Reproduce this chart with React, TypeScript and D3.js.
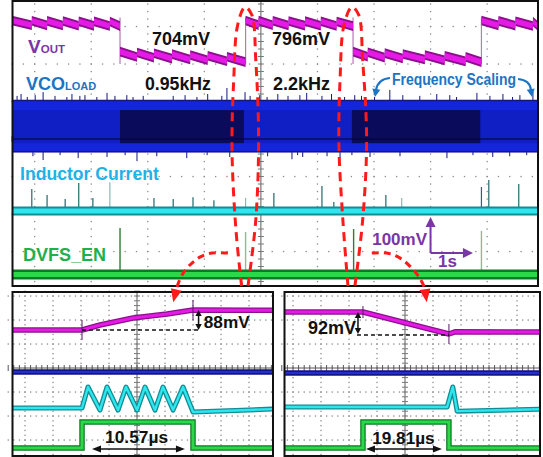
import * as d3 from "d3";
import React from "react";

const FONT = "'Liberation Sans', Arial, Helvetica, sans-serif";

// ---------- top capture: time in s (1 s/div, 0 = centre graticule), vertical in divisions ----------
const topT = [-4.4, 4.9];

const voutEdgeT = [-4.4, -2.49, -0.27, 1.63, 3.9, 4.9];
const voutStartMv = [798, 715, 798, 715, 798];
const voutEndMv = [795, 699, 795, 699, 795];
const voutTeethT = [
  [-4.05, -3.78, -3.5, -3.22, -2.95, -2.67],
  [-2.19, -1.89, -1.57, -1.25, -0.94, -0.6],
  [-0.04, 0.21, 0.49, 0.78, 1.06, 1.34],
  [1.89, 2.19, 2.51, 2.9, 3.25, 3.62],
  [4.2, 4.5, 4.81],
];
const voutRippleMv = 12;

const vcoBandDiv = [-0.35, 1.04];
const vcoDarkDiv = [-0.11, 0.77];
const vcoDarkT = [
  [-2.49, -0.3],
  [1.61, 3.88],
];
const vcoUpT = [
  -4.31, -4.24, -4.13, -3.99, -3.85, -3.64, -3.43, -3.34, -3.2, -3.11, -2.9, -2.72, -2.58, -2.37, -2.26, -2.08,
  -1.55, -1.34, -1.13, -0.94, -0.69, -0.6, -0.28, -0.19, -0.02, 0.11, 0.3, 0.48, 0.69, 0.81, 1.08, 1.25, 1.48,
  1.66, 1.78, 2.01, 2.28, 2.51, 2.81, 3.11, 3.34, 3.46, 3.82, 4.05, 4.28, 4.45, 4.58, 4.81,
];
const vcoUpDiv = [
  0.11, 0.16, 0.08, 0.13, 0.21, 0.11, 0.08, 0.16, 0.11, 0.13, 0.08, 0.19, 0.11, 0.13, 0.08, 0.11, 0.11, 0.13,
  0.08, 0.16, 0.11, 0.32, 0.21, 0.11, 0.13, 0.08, 0.16, 0.11, 0.13, 0.19, 0.11, 0.16, 0.08, 0.13, 0.11, 0.08,
  0.27, 0.13, 0.11, 0.16, 0.13, 0.08, 0.19, 0.11, 0.16, 0.08, 0.13, 0.21,
];
const vcoDownT = [
  -4.03, -3.85, -3.55, -3.23, -2.72, -2.4, -2.19, -1.84, -1.31, -0.95, -0.55, 0.12, 0.55, 0.65, 0.74, 1.17, 1.4,
  1.61, 1.93, 2.46, 3.29, 3.75, 4.1, 4.4, 4.7,
];
const vcoDownDiv = [
  0.11, 0.21, 0.08, 0.16, 0.13, 0.08, 0.24, 0.11, 0.16, 0.08, 0.13, 0.11, 0.19, 0.08, 0.13, 0.11, 0.16, 0.08,
  0.13, 0.11, 0.16, 0.08, 0.13, 0.11, 0.08,
];

const ilBandDiv = -1.92;
const ilSpikeT = [
  -4.05, -3.78, -3.46, -3.22, -2.97, -2.67, -1.89, -1.55, -1.2, -0.83, -0.27, 0.23, 1.08, 1.29, 2.21, 2.49, 3.9,
  4.03, 4.56,
];
const ilSpikeTop = [
  -1.33, -1.49, -1.6, -1.17, -1.57, -1.15, -1.57, -1.6, -1.55, -1.63, -1.57, -1.44, -1.25, -1.68, -1.49, -1.57,
  -1.28, -1.09, -1.2,
];
const ilSpikeFaint = [-2.67, -0.27, 2.49];

const enBandDiv = -3.61;
const enSpikeT = [-2.49, -0.27, 1.64, 3.9];
const enSpikeTop = [-2.37, -2.48, -2.4, -2.45];
const enSpikeFaint = [-0.27, 3.9];

// zoom call-outs (time, graticule div of the top capture)
const loopA: [number, number][] = [
  [-0.34, -3.92], [-0.44, -2.43], [-0.51, -0.29], [-0.48, 1.57], [-0.41, 3.04], [-0.28, 3.52],
  [-0.16, 3.31], [-0.09, 2.11], [-0.04, -0.03], [-0.09, -2.16], [-0.23, -3.95],
];
const loopB: [number, number][] = [
  [1.54, -3.92], [1.45, -2.16], [1.38, -0.16], [1.4, 1.57], [1.47, 3.04], [1.61, 3.52],
  [1.73, 3.31], [1.8, 2.11], [1.87, -0.03], [1.8, -2.16], [1.66, -3.95],
];
const calloutA: [number, number][] = [
  [-0.583, -3.04], [-0.866, -3.04], [-1.078, -3.15], [-1.254, -3.36], [-1.396, -3.63], [-1.484, -3.95], [-1.55, -4.35],
];
const calloutB: [number, number][] = [
  [1.961, -3.04], [2.226, -3.04], [2.456, -3.17], [2.668, -3.44], [2.809, -3.71], [2.898, -3.97], [2.933, -4.35],
];
const scaleBarT = [3.0, 3.75];
const scaleBarDiv = [-3.04, -2.08];

// ---------- zoomed captures: time in µs ----------
const zoomAT = [-6.67, 18.19];
const zoomBT = [-18.2, 40.8];
const pulseUs = [10.57, 19.81];
const stepMv = [88, 92];

const aVoutT = [-6.67, 0, 1.71, 4.86, 8.1, 10.57, 18.19];
const aVoutMv = [704, 704, 726, 757, 774, 792, 791];
const bVoutT = [-18.2, 0, 19.81, 21.2, 40.8];
const bVoutMv = [796, 796, 704, 713, 712];

const zoomVcoDiv = [-0.17, -0.21];

const aIlT = [-6.67, 0, 0.57, 1.71, 2.38, 3.43, 4.19, 5.24, 6.0, 6.95, 7.71, 8.67, 9.62, 10.57, 18.19];
const aIlMa = [0, 0, 200, -20, 200, -20, 200, -20, 200, -20, 200, -20, 200, -38, -10];
const bIlT = [-18.2, 19.4, 20.7, 21.7, 40.8];
const bIlMa = [10, 10, 200, -30, -12];

const aEnT = [-6.67, 0, 0, 10.57, 10.57, 18.19];
const bEnT = [-18.2, 0, 0, 19.81, 19.81, 40.8];
const enV = [0, 0, 1, 1, 0, 0];

const C = {
  magentaDark: "#8c0f8c",
  magenta: "#e61ae6",
  blue: "#1426dc",
  blueDark: "#0b0b5c",
  navy: "#15157a",
  cyan: "#2ee6ee",
  teal: "#138c94",
  tealSpike: "#1f6a6a",
  green: "#2ad84a",
  greenDark: "#0d7a22",
  red: "#ff1a1a",
  purple: "#7a35a6",
  vco: "#1b74c4",
  il: "#1eb2ea",
  en: "#1fb04e",
};

function arrowHead(tip: [number, number], from: [number, number], len: number, half: number) {
  const dx = tip[0] - from[0];
  const dy = tip[1] - from[1];
  const L = Math.hypot(dx, dy) || 1;
  const ux = dx / L;
  const uy = dy / L;
  const bx = tip[0] - ux * len;
  const by = tip[1] - uy * len;
  return `${tip[0]},${tip[1]} ${bx - uy * half},${by + ux * half} ${bx + uy * half},${by - ux * half}`;
}

function Graticule({ x0, x1, y0, y1, cx, cy, dx, dy }: any) {
  const cols: number[] = [];
  for (let k = -10; k <= 10; k++) {
    const x = cx + k * dx;
    if (k !== 0 && x > x0 + 2 && x < x1 - 2) cols.push(x);
  }
  const rows: number[] = [];
  for (let k = -10; k <= 10; k++) {
    const y = cy + k * dy;
    if (k !== 0 && y > y0 + 2 && y < y1 - 2) rows.push(y);
  }
  const sx = dx / 5;
  const sy = dy / 5;
  const startY = cy - Math.ceil((cy - y0) / sy) * sy;
  const startX = cx - Math.ceil((cx - x0) / sx) * sx;
  const tickX = d3.range(startX, x1, sx);
  const tickY = d3.range(startY, y1, sy);
  return (
    <g>
      {cols.map((x) =>
        tickY.map((y, i) => <rect key={`${x}-${i}`} x={x - 0.6} y={y - 0.6} width={1.3} height={1.3} fill="#8a8a8a" />)
      )}
      {rows.map((y) =>
        tickX.map((x, i) => <rect key={`${y}-${i}`} x={x - 0.6} y={y - 0.6} width={1.3} height={1.3} fill="#8a8a8a" />)
      )}
      <line x1={cx} x2={cx} y1={y0} y2={y1} stroke="#777" strokeWidth={1.2} />
      <line x1={x0} x2={x1} y1={cy} y2={cy} stroke="#555" strokeWidth={1} />
      {tickY.map((y, i) => (
        <line key={`ty${i}`} x1={cx - 3} x2={cx + 3} y1={y} y2={y} stroke="#777" strokeWidth={1} />
      ))}
      {tickX.map((x, i) => (
        <line key={`tx${i}`} x1={x} x2={x} y1={cy - 3} y2={cy + 3} stroke="#555" strokeWidth={1} />
      ))}
    </g>
  );
}

export default function App() {
  // top capture scales
  const tx = d3.scaleLinear().domain(topT).range([12, 538]);
  const dv = d3.scaleLinear().domain([0, 1]).range([139, 101.5]);
  const vy = d3.scaleLinear().domain([796, 704]).range([23.5, 58]);

  // zoom capture scales
  const ax = d3.scaleLinear().domain(zoomAT).range([12, 273]);
  const bx = d3.scaleLinear().domain(zoomBT).range([284, 540]);
  const aVy = d3.scaleLinear().domain([704, 792]).range([330, 310]);
  const bVy = d3.scaleLinear().domain([796, 704]).range([312, 334]);
  const zDiv = d3.scaleLinear().domain([0, 1]).range([368, 344]);
  const zIy = d3.scaleLinear().domain([0, 200]).range([408, 387]);
  const zEy = d3.scaleLinear().domain([0, 1]).range([448, 422]);

  // VOUT sawtooth teeth
  const teeth: { a: number; b: number; va: number; vb: number }[] = [];
  voutEdgeT.slice(0, -1).forEach((a, i) => {
    const b = voutEdgeT[i + 1];
    const trend = d3.scaleLinear().domain([a, b]).range([voutStartMv[i], voutEndMv[i]]);
    const cuts = [a, ...voutTeethT[i], b];
    for (let k = 0; k < cuts.length - 1; k++) {
      teeth.push({
        a: cuts[k],
        b: cuts[k + 1],
        va: trend(cuts[k]) + voutRippleMv / 2,
        vb: trend(cuts[k + 1]) - voutRippleMv / 2,
      });
    }
  });
  const toothPath = (t: any, half: number) =>
    `M${tx(t.a)},${vy(t.va) - half}L${tx(t.b)},${vy(t.vb) - half}L${tx(t.b)},${vy(t.vb) + half}L${tx(t.a)},${vy(t.va) + half}Z`;

  const smooth = d3
    .line<[number, number]>()
    .x((d) => tx(d[0]))
    .y((d) => dv(d[1]))
    .curve(d3.curveCatmullRom.alpha(0.5));

  const lineA = (ts: number[], vs: number[], sy: any) =>
    d3.line<number>().x((_, i) => ax(ts[i])).y((_, i) => sy(vs[i]))(ts) || "";
  const lineB = (ts: number[], vs: number[], sy: any) =>
    d3.line<number>().x((_, i) => bx(ts[i])).y((_, i) => sy(vs[i]))(ts) || "";

  const callout = (pts: [number, number][]) => {
    const body = pts.slice(0, -1);
    const tip: [number, number] = [tx(pts[pts.length - 1][0]), dv(pts[pts.length - 1][1])];
    const from: [number, number] = [tx(body[body.length - 1][0]), dv(body[body.length - 1][1])];
    return (
      <g>
        <path d={smooth(body) || ""} fill="none" stroke={C.red} strokeWidth={3} strokeDasharray="7 5" />
        <polygon points={arrowHead(tip, from, 13, 5.5)} fill={C.red} />
      </g>
    );
  };

  const txt = { fontFamily: FONT, fontWeight: 700 } as const;

  const zoomPanel = (
    key: string,
    x0: number,
    x1: number,
    cx: number,
    voutPath: string,
    vcoDiv: number,
    ilPath: string,
    enPath: string,
    clip: string
  ) => (
    <g key={key}>
      <Graticule x0={x0} x1={x1} y0={292} y1={456} cx={cx} cy={368} dx={28} dy={24} />
      <g clipPath={`url(#${clip})`}>
        <path d={voutPath} fill="none" stroke={C.magentaDark} strokeWidth={5.5} strokeLinejoin="round" />
        <path d={voutPath} fill="none" stroke={C.magenta} strokeWidth={3} strokeLinejoin="round" />
        <line x1={x0} x2={x1} y1={zDiv(vcoDiv)} y2={zDiv(vcoDiv)} stroke="#14148a" strokeWidth={5.5} />
        <line x1={x0} x2={x1} y1={zDiv(vcoDiv)} y2={zDiv(vcoDiv)} stroke="#2230c8" strokeWidth={2} />
        <path d={ilPath} fill="none" stroke={C.teal} strokeWidth={5} strokeLinejoin="round" />
        <path d={ilPath} fill="none" stroke={C.cyan} strokeWidth={2.4} strokeLinejoin="round" />
        <path d={enPath} fill="none" stroke={C.greenDark} strokeWidth={5.5} />
        <path d={enPath} fill="none" stroke={C.green} strokeWidth={3} />
      </g>
    </g>
  );

  const arrowH = (xA: number, xB: number, y: number) => (
    <g>
      <line x1={xA + 6} x2={xB - 6} y1={y} y2={y} stroke="#111" strokeWidth={1.5} />
      <polygon points={arrowHead([xA, y], [xA + 10, y], 9, 3.5)} fill="#111" />
      <polygon points={arrowHead([xB, y], [xB - 10, y], 9, 3.5)} fill="#111" />
    </g>
  );
  const arrowV = (x: number, yA: number, yB: number) => (
    <g>
      <line x1={x} x2={x} y1={yA + 4} y2={yB - 4} stroke="#111" strokeWidth={1.5} />
      <polygon points={arrowHead([x, yA], [x, yA + 10], 6, 3.2)} fill="#111" />
      <polygon points={arrowHead([x, yB], [x, yB - 10], 6, 3.2)} fill="#111" />
    </g>
  );

  const sbX0 = tx(scaleBarT[0]);
  const sbX1 = tx(scaleBarT[1]);
  const sbY0 = dv(scaleBarDiv[0]);
  const sbY1 = dv(scaleBarDiv[1]);

  return (
    <svg width={543} height={457} style={{ position: "absolute", left: 0, top: 0, background: "#fff" }}>
      <defs>
        <clipPath id="clipTop">
          <rect x={13} y={1} width={524} height={284} />
        </clipPath>
        <clipPath id="clipA">
          <rect x={13} y={293} width={259} height={162} />
        </clipPath>
        <clipPath id="clipB">
          <rect x={285} y={293} width={254} height={162} />
        </clipPath>
      </defs>
      <rect x={0} y={0} width={543} height={457} fill="#fff" />

      {/* ---------- top capture ---------- */}
      <Graticule x0={12} x1={538} y0={0} y1={286} cx={tx(0)} cy={dv(0)} dx={tx(1) - tx(0)} dy={dv(0) - dv(1)} />
      <g clipPath="url(#clipTop)">
        {/* VCO load band */}
        <rect
          x={tx(topT[0])}
          y={dv(vcoBandDiv[1])}
          width={tx(topT[1]) - tx(topT[0])}
          height={dv(vcoBandDiv[0]) - dv(vcoBandDiv[1])}
          fill={C.blue}
        />
        <rect
          x={tx(topT[0])}
          y={dv(vcoDarkDiv[1])}
          width={tx(topT[1]) - tx(topT[0])}
          height={dv(vcoDarkDiv[0]) - dv(vcoDarkDiv[1])}
          fill="#0f1fc4"
        />
        {vcoDarkT.map(([a, b], i) => (
          <rect
            key={i}
            x={tx(a)}
            y={dv(vcoDarkDiv[1])}
            width={tx(b) - tx(a)}
            height={dv(vcoDarkDiv[0]) - dv(vcoDarkDiv[1])}
            fill={C.blueDark}
          />
        ))}
        <line x1={12} x2={538} y1={dv(0)} y2={dv(0)} stroke="#05052a" strokeWidth={1.2} />
        <line x1={12} x2={538} y1={dv(vcoBandDiv[1]) + 0.5} y2={dv(vcoBandDiv[1]) + 0.5} stroke={C.navy} strokeWidth={1.5} />
        <line x1={12} x2={538} y1={dv(vcoBandDiv[0]) - 0.5} y2={dv(vcoBandDiv[0]) - 0.5} stroke={C.navy} strokeWidth={1.5} />
        {vcoUpT.map((t, i) => (
          <line key={`u${i}`} x1={tx(t)} x2={tx(t)} y1={dv(vcoBandDiv[1])} y2={dv(vcoBandDiv[1] + vcoUpDiv[i])} stroke={C.navy} strokeWidth={1} />
        ))}
        {vcoDownT.map((t, i) => (
          <line key={`d${i}`} x1={tx(t)} x2={tx(t)} y1={dv(vcoBandDiv[0])} y2={dv(vcoBandDiv[0] - vcoDownDiv[i])} stroke={C.navy} strokeWidth={1} />
        ))}

        {/* inductor current */}
        {ilSpikeT.map((t, i) => (
          <line
            key={`il${i}`}
            x1={tx(t)}
            x2={tx(t)}
            y1={dv(ilBandDiv)}
            y2={dv(ilSpikeTop[i])}
            stroke={ilSpikeFaint.includes(t) ? "#8fb5b5" : C.tealSpike}
            strokeWidth={1.2}
          />
        ))}
        <line x1={12} x2={538} y1={dv(ilBandDiv)} y2={dv(ilBandDiv)} stroke={C.teal} strokeWidth={9} />
        <line x1={12} x2={538} y1={dv(ilBandDiv)} y2={dv(ilBandDiv)} stroke={C.cyan} strokeWidth={5} />

        {/* DVFS enable */}
        {enSpikeT.map((t, i) => (
          <line
            key={`en${i}`}
            x1={tx(t)}
            x2={tx(t)}
            y1={dv(enBandDiv)}
            y2={dv(enSpikeTop[i])}
            stroke={enSpikeFaint.includes(t) ? "#93b896" : "#2d7d34"}
            strokeWidth={1.4}
          />
        ))}
        <line x1={12} x2={538} y1={dv(enBandDiv)} y2={dv(enBandDiv)} stroke={C.greenDark} strokeWidth={10} />
        <line x1={12} x2={538} y1={dv(enBandDiv)} y2={dv(enBandDiv)} stroke={C.green} strokeWidth={5} />

        {/* VOUT */}
        {voutEdgeT.slice(1, -1).map((t, i) => (
          <line key={`e${i}`} x1={tx(t)} x2={tx(t)} y1={vy(796) - 6} y2={vy(704) + 6} stroke="#b877b8" strokeWidth={1.2} />
        ))}
        {teeth.map((t, i) => (
          <path key={`to${i}`} d={toothPath(t, 4.8)} fill={C.magentaDark} />
        ))}
        {teeth.map((t, i) => (
          <path key={`ti${i}`} d={toothPath(t, 2.8)} fill={C.magenta} />
        ))}
      </g>
      <rect x={12.5} y={1} width={525.5} height={285} fill="none" stroke="#111" strokeWidth={2} />

      {/* labels top */}
      <text x={28} y={53} fill={C.purple} fontSize={19} style={txt}>
        V<tspan fontSize={11.5}>OUT</tspan>
      </text>
      <text x={152} y={45} fill="#111" fontSize={18} style={txt}>704mV</text>
      <text x={272} y={45} fill="#111" fontSize={18} style={txt}>796mV</text>
      <text x={26} y={90} fill={C.vco} fontSize={18} style={txt}>
        VCO<tspan fontSize={11}>LOAD</tspan>
      </text>
      <text x={145} y={90} fill="#111" fontSize={17.7} style={txt}>0.95kHz</text>
      <text x={273} y={90} fill="#111" fontSize={18} style={txt}>2.2kHz</text>
      <text x={392} y={85} fill={C.vco} fontSize={16} style={txt} textLength={124} lengthAdjust="spacingAndGlyphs">
        Frequency Scaling
      </text>
      <path d="M390,78 Q378,79 376,90" fill="none" stroke={C.vco} strokeWidth={2.2} />
      <polygon points={arrowHead([375, 97], [376.5, 88], 8, 4)} fill={C.vco} />
      <path d="M518,79 Q530,80 531,90" fill="none" stroke={C.vco} strokeWidth={2.2} />
      <polygon points={arrowHead([532, 97], [530.5, 88], 8, 4)} fill={C.vco} />
      <text x={20} y={180} fill={C.il} fontSize={17.6} style={txt}>Inductor Current</text>
      <text x={23} y={261} fill={C.en} fontSize={18} style={txt}>DVFS_EN</text>

      {/* scale bar */}
      <line x1={sbX0} x2={sbX0} y1={sbY0} y2={sbY1 + 6} stroke={C.purple} strokeWidth={2} />
      <polygon points={arrowHead([sbX0, sbY1], [sbX0, sbY1 + 10], 10, 5)} fill={C.purple} />
      <line x1={sbX0} x2={sbX1 - 6} y1={sbY0} y2={sbY0} stroke={C.purple} strokeWidth={2} />
      <polygon points={arrowHead([sbX1, sbY0], [sbX1 - 10, sbY0], 10, 5)} fill={C.purple} />
      <text x={427} y={245} fill={C.purple} fontSize={17} textAnchor="end" style={txt}>100mV</text>
      <text x={438} y={267} fill={C.purple} fontSize={17} style={txt}>1s</text>

      {/* ---------- zoom A ---------- */}
      {zoomPanel(
        "A",
        12,
        273,
        137,
        lineA(aVoutT, aVoutMv, aVy),
        zoomVcoDiv[0],
        lineA(aIlT, aIlMa, zIy),
        lineA(aEnT, enV, zEy),
        "clipA"
      )}
      <line x1={ax(0)} x2={ax(0)} y1={aVy(704) - 10} y2={aVy(704) + 10} stroke="#5a1a6a" strokeWidth={1} />
      <line x1={ax(pulseUs[0])} x2={ax(pulseUs[0])} y1={aVy(792) - 10} y2={aVy(792) + 10} stroke="#5a1a6a" strokeWidth={1} />
      <line x1={ax(0)} x2={ax(11.3)} y1={aVy(704)} y2={aVy(704)} stroke="#111" strokeWidth={1.3} strokeDasharray="4 3" />
      {arrowV(ax(11.1), aVy(704 + stepMv[0]), aVy(704))}
      <text x={ax(11.6)} y={aVy(713)} fill="#111" fontSize={17.2} style={txt}>{`${stepMv[0]}mV`}</text>
      {arrowH(ax(0.95), ax(9.8), zEy(-0.04))}
      <text x={ax(5.2)} y={zEy(0.19)} fill="#111" fontSize={17.4} textAnchor="middle" style={txt}>
        {`${pulseUs[0]}µs`}
      </text>
      <rect x={12.5} y={292} width={260.5} height={164} fill="none" stroke="#111" strokeWidth={2} />

      {/* ---------- zoom B ---------- */}
      {zoomPanel(
        "B",
        284,
        540,
        405,
        lineB(bVoutT, bVoutMv, bVy),
        zoomVcoDiv[1],
        lineB(bIlT, bIlMa, zIy),
        lineB(bEnT, enV, zEy),
        "clipB"
      )}
      <line x1={bx(0)} x2={bx(0)} y1={bVy(796) - 6} y2={bVy(796) + 6} stroke="#5a1a6a" strokeWidth={1} />
      <line x1={bx(pulseUs[1])} x2={bx(pulseUs[1])} y1={bVy(704) - 10} y2={bVy(704) + 10} stroke="#5a1a6a" strokeWidth={1} />
      <line x1={bx(-1.38)} x2={bx(pulseUs[1])} y1={bVy(704) + 1} y2={bVy(704) + 1} stroke="#111" strokeWidth={1.3} strokeDasharray="4 3" />
      {arrowV(bx(-1.15), bVy(796), bVy(796 - stepMv[1]))}
      <text x={bx(-1.6)} y={bVy(704)} fill="#111" fontSize={18} textAnchor="end" style={txt}>{`${stepMv[1]}mV`}</text>
      {arrowH(bx(0.69), bx(18.2), zEy(-0.04))}
      <text x={bx(9.33)} y={zEy(0.15)} fill="#111" fontSize={17.2} textAnchor="middle" style={txt}>
        {`${pulseUs[1]}µs`}
      </text>
      <rect x={284.5} y={292} width={255.5} height={164} fill="none" stroke="#111" strokeWidth={2} />

      {/* ---------- red call-outs ---------- */}
      <path d={smooth(loopA) || ""} fill="none" stroke={C.red} strokeWidth={3} strokeDasharray="9 6" />
      <path d={smooth(loopB) || ""} fill="none" stroke={C.red} strokeWidth={3} strokeDasharray="9 6" />
      {callout(calloutA)}
      {callout(calloutB)}
    </svg>
  );
}
